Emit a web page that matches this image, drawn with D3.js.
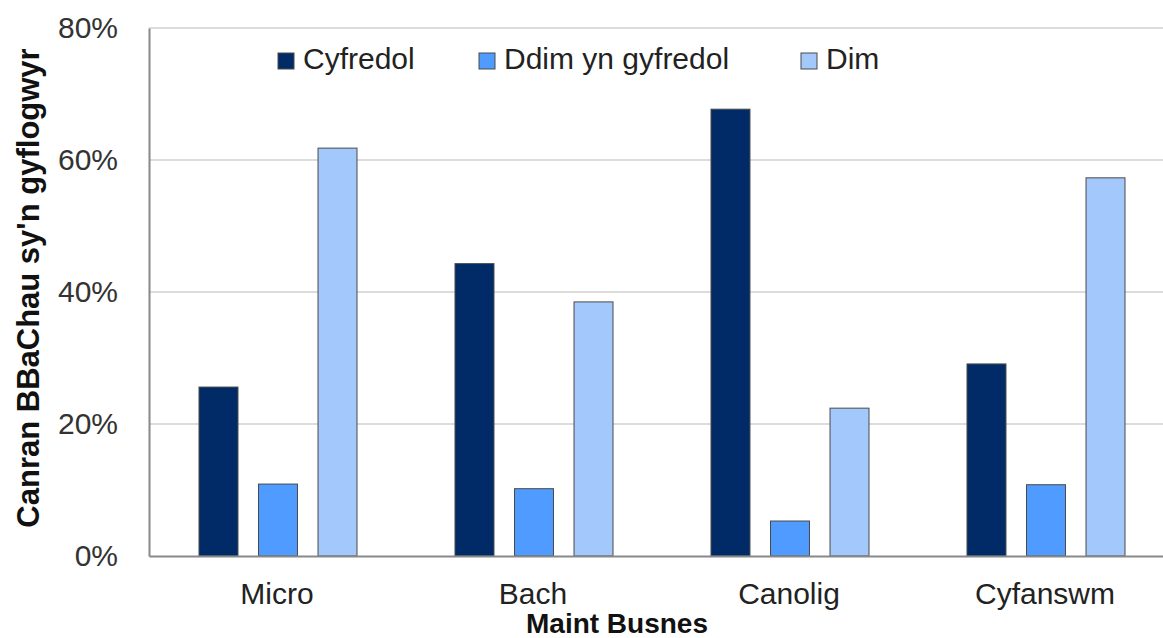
<!DOCTYPE html>
<html>
<head>
<meta charset="utf-8">
<script src="https://cdn.jsdelivr.net/npm/d3@7"></script>
<style>
  html, body { margin: 0; padding: 0; background: #fff; }
  svg { display: block; font-family: "Liberation Sans", Arial, sans-serif; }
</style>
</head>
<body>
<svg id="chart" width="1163" height="638"></svg>
<script>
const categories = ["Micro", "Bach", "Canolig", "Cyfanswm"];
const seriesNames = ["Cyfredol", "Ddim yn gyfredol", "Dim"];
const cyfredol = [25.6, 44.3, 67.7, 29.1];
const ddimYnGyfredol = [10.9, 10.2, 5.3, 10.8];
const dim = [61.8, 38.5, 22.4, 57.3];
const yTicks = [0, 20, 40, 60, 80];
const colors = ["#002b66", "#4f9bff", "#a2c8fc"];
const yTitle = "Canran BBaChau sy'n gyflogwyr";
const xTitle = "Maint Busnes";

const seriesValues = [cyfredol, ddimYnGyfredol, dim];
const data = categories.map((c, i) => ({
  category: c,
  values: seriesNames.map((s, j) => ({ series: s, value: seriesValues[j][i], idx: j }))
}));

const svg = d3.select("#chart");
const plot = { left: 149, right: 1173, top: 28, bottom: 556 };

const x0 = d3.scaleBand().domain(categories).range([plot.left, plot.right]).padding(0);
const x1 = d3.scaleBand().domain(seriesNames)
  .range([50, 208])
  .paddingInner(0.345).paddingOuter(0);
const y = d3.scaleLinear().domain([0, 80]).range([plot.bottom, plot.top]);

// gridlines
svg.append("g").selectAll("line").data(yTicks.filter(d => d > 0)).join("line")
  .attr("x1", plot.left).attr("x2", plot.right)
  .attr("y1", d => y(d)).attr("y2", d => y(d))
  .attr("stroke", "#d0d0d0").attr("stroke-width", 1.5);

// bars
const groups = svg.append("g").selectAll("g").data(data).join("g")
  .attr("transform", d => `translate(${x0(d.category)},0)`);
groups.selectAll("rect").data(d => d.values).join("rect")
  .attr("x", d => x1(d.series))
  .attr("y", d => y(d.value))
  .attr("width", x1.bandwidth())
  .attr("height", d => y(0) - y(d.value))
  .attr("fill", d => colors[d.idx])
  .attr("stroke", "#4a4a4a").attr("stroke-width", 1);

// axes
const yAxis = d3.axisLeft(y).tickValues(yTicks).tickFormat(d => d + "%").tickSize(0).tickPadding(31);
const yg = svg.append("g").attr("transform", `translate(${plot.left},0)`).call(yAxis);
yg.select(".domain").attr("stroke", "#888").attr("stroke-width", 2);
yg.selectAll("text").attr("font-size", 30).attr("fill", "#333").attr("font-family", "Liberation Sans, Arial, sans-serif");

const xAxis = d3.axisBottom(x0).tickSize(0).tickPadding(27);
const xg = svg.append("g").attr("transform", `translate(0,${plot.bottom})`).call(xAxis);
xg.select(".domain").attr("stroke", "#888").attr("stroke-width", 2);
xg.selectAll("text").attr("font-size", 30).attr("fill", "#222").attr("font-family", "Liberation Sans, Arial, sans-serif");

// axis titles
svg.append("text")
  .attr("transform", `translate(39,${(43 + 533) / 2}) rotate(-90)`)
  .attr("text-anchor", "middle")
  .attr("font-size", 31).attr("font-weight", "bold").attr("fill", "#111")
  .text(yTitle);
svg.append("text")
  .attr("x", 617).attr("y", 633)
  .attr("text-anchor", "middle")
  .attr("font-size", 28).attr("font-weight", "bold").attr("fill", "#111")
  .text(xTitle);

// legend
const legendX = [278, 479, 801];
const lg = svg.append("g").selectAll("g").data(seriesNames).join("g")
  .attr("transform", (d, i) => `translate(${legendX[i]},53)`);
lg.append("rect").attr("width", 16).attr("height", 16)
  .attr("fill", (d, i) => colors[i]).attr("stroke", "#4a4a4a").attr("stroke-width", 1);
lg.append("text").attr("x", 25).attr("y", 16)
  .attr("font-size", 30).attr("fill", "#222")
  .text(d => d);
</script>
</body>
</html>
